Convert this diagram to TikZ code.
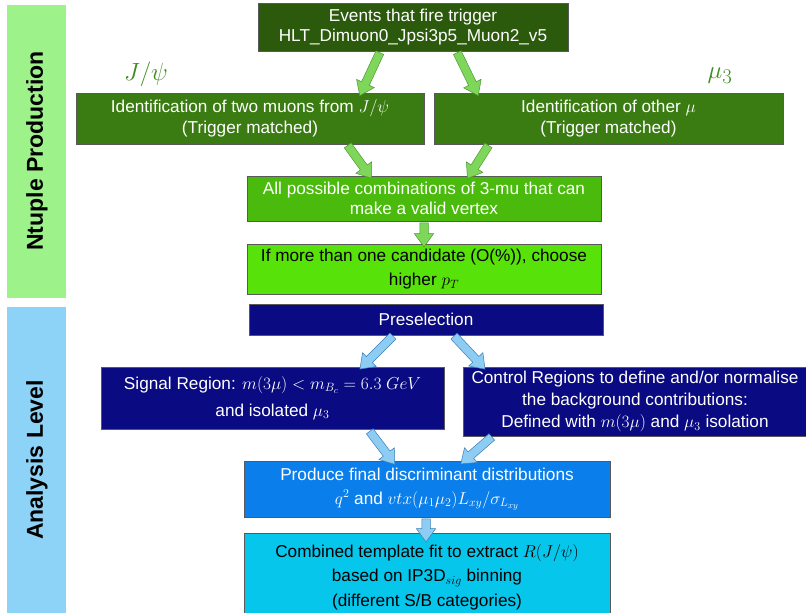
\documentclass[tikz,border=0pt]{standalone}
\usepackage{fontspec}
\setmainfont{Liberation Sans}
\usetikzlibrary{shapes.arrows,calc}
\definecolor{barG}{HTML}{9DF28A}
\definecolor{barB}{HTML}{8DD3F8}
\definecolor{gTop}{HTML}{2B5A0C}
\definecolor{gId}{HTML}{3A7C12}
\definecolor{gCombo}{HTML}{4ABB0C}
\definecolor{gCand}{HTML}{57E20A}
\definecolor{navy}{HTML}{0A0A82}
\definecolor{prodC}{HTML}{0A7EEA}
\definecolor{combC}{HTML}{06C6EC}
\definecolor{arrGf}{HTML}{7ED65B}
\definecolor{arrGd}{HTML}{4C9A2E}
\definecolor{arrBf}{HTML}{8DCDF4}
\definecolor{arrBd}{HTML}{3C7DB8}
\definecolor{lblG}{HTML}{3C8C1F}
\newcommand{\blockarrow}[4]{%
  \path let \p1=(#2), \p2=(#3), \n1={atan2(\y2-\y1,\x2-\x1)}, \n2={veclen(\x2-\x1,\y2-\y1)} in
    node[#1, rotate=\n1, minimum height=\n2] (#4) at ($(#2)!0.5!(#3)$) {};}
\tikzset{
  box/.style={draw=black!65, line width=0.7pt, align=center, inner sep=2pt,
    font=\fontsize{17.2}{20}\selectfont},
  sidebar/.style={font=\fontsize{23}{26}\selectfont\bfseries, rotate=90},
  barr/.style={single arrow, draw, line width=0.5pt, inner xsep=0pt, inner ysep=4pt,
    single arrow head extend=5.5pt, single arrow tip angle=72, single arrow head indent=0pt},
  garr/.style={barr, fill=arrGf, draw=arrGd},
  barrow/.style={barr, fill=arrBf, draw=arrBd},
  lbl/.style={text=lblG, font=\fontsize{29}{30}\selectfont}
}
\begin{document}
\begin{tikzpicture}[x=1pt,y=-1pt]
\useasboundingbox (0,0) rectangle (806,613);
\fill[white] (0,0) rectangle (806,613);
% side bars
\fill[barG] (7,5) rectangle (66,298);
\fill[barB] (7,307) rectangle (66,620);
\node[sidebar] (ntp) at (37,151) {Ntuple Production};
\node[sidebar] (anl) at (37,460) {Analysis Level};
% boxes
\node[box, fill=gTop, text=white, minimum width=310, minimum height=48] (top) at (413,27)
  {Events that fire trigger\\HLT\_Dimuon0\_Jpsi3p5\_Muon2\_v5};
\node[box, fill=gId, text=white, minimum width=348, minimum height=51,
  font=\fontsize{17.2}{21}\selectfont] (idL) at (250,118.5)
  {Identification of two muons from $J/\psi$\\(Trigger matched)};
\node[box, fill=gId, text=white, minimum width=349, minimum height=51,
  font=\fontsize{17.2}{21}\selectfont] (idR) at (608.5,118.5)
  {Identification of other $\mu$\\(Trigger matched)};
\node[box, fill=gCombo, text=white, minimum width=354, minimum height=45] (combo) at (424,198.5)
  {All possible combinations of 3-mu that can\\make a valid vertex};
\node[box, fill=gCand, text=black, minimum width=354, minimum height=50,
  font=\fontsize{17.2}{24}\selectfont] (cand) at (424,269)
  {If more than one candidate (O(\%)), choose\\higher $p_T$};
\node[box, fill=navy, text=white, minimum width=354, minimum height=31] (pres) at (426,319.5)
  {Preselection};
\node[box, fill=navy, text=white, minimum width=343, minimum height=62,
  font=\fontsize{17.2}{27}\selectfont] (sig) at (272.5,398)
  {Signal Region: $m(3\mu) < m_{B_c} = 6.3~GeV$\\and isolated $\mu_3$};
\node[box, fill=navy, text=white, minimum width=344, minimum height=69,
  font=\fontsize{17.2}{22}\selectfont] (ctrl) at (635,401.5)
  {Control Regions to define and/or normalise\\the background contributions:\\Defined with $m(3\mu)$ and $\mu_3$ isolation};
\node[box, fill=prodC, text=white, minimum width=366, minimum height=56,
  font=\fontsize{17.2}{24}\selectfont] (prod) at (427,489)
  {Produce final discriminant distributions\\$q^2$ and $vtx(\mu_1\mu_2)L_{xy}/\sigma_{L_{xy}}$};
\node[box, fill=combC, text=black, minimum width=366, minimum height=88,
  font=\fontsize{17.2}{24.5}\selectfont] (comb) at (427,577)
  {Combined template fit to extract $R(J/\psi)$\\based on IP3D$_{sig}$ binning\\(different S/B categories)};
% labels
\node[lbl] (ljpsi) at (146,74) {$J/\psi$};
\node[lbl] (lmu) at (720,76) {$\mu_3$};
% arrow end points
\coordinate (a1s) at (381,50);  \coordinate (a1e) at (361,93);
\coordinate (a2s) at (456,50);  \coordinate (a2e) at (477,93);
\coordinate (a3s) at (346,143); \coordinate (a3e) at (370,176);
\coordinate (a4s) at (490,143); \coordinate (a4e) at (469,176);
\coordinate (a5s) at (424,220); \coordinate (a5e) at (424,244);
\coordinate (b1s) at (395,334); \coordinate (b1e) at (362,367);
\coordinate (b2s) at (452,334); \coordinate (b2e) at (483,367);
\coordinate (b3s) at (368,429); \coordinate (b3e) at (393,462);
\coordinate (b4s) at (494,435); \coordinate (b4e) at (463,462);
\coordinate (b5s) at (426,516); \coordinate (b5e) at (426,539);
\blockarrow{garr}{a1s}{a1e}{ga1}
\blockarrow{garr}{a2s}{a2e}{ga2}
\blockarrow{garr}{a3s}{a3e}{ga3}
\blockarrow{garr}{a4s}{a4e}{ga4}
\blockarrow{garr}{a5s}{a5e}{ga5}
\blockarrow{barrow}{b1s}{b1e}{ba1}
\blockarrow{barrow}{b2s}{b2e}{ba2}
\blockarrow{barrow}{b3s}{b3e}{ba3}
\blockarrow{barrow}{b4s}{b4e}{ba4}
\blockarrow{barrow}{b5s}{b5e}{ba5}
\end{tikzpicture}
\end{document}
